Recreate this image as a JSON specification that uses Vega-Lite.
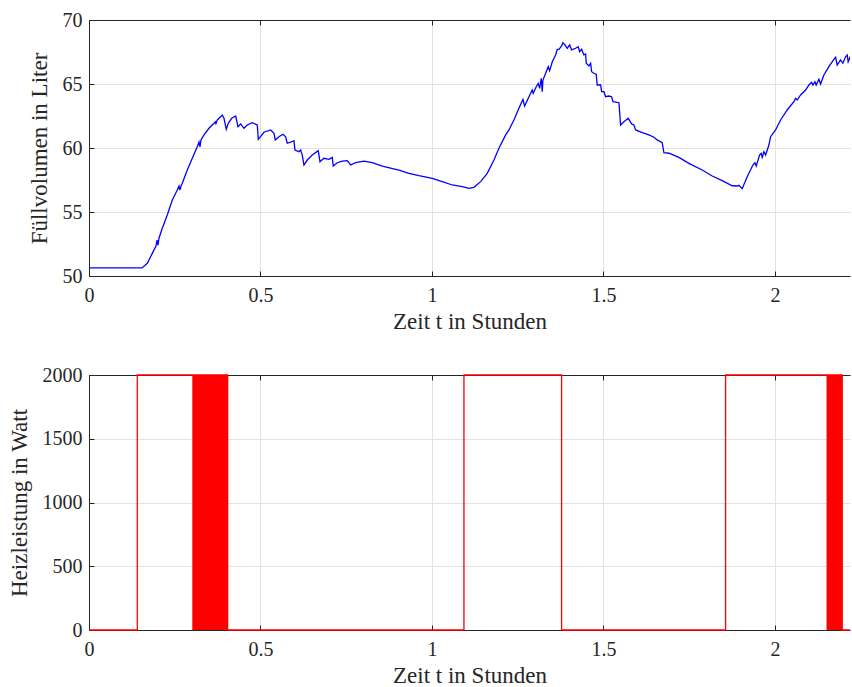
{
  "$schema": "https://vega.github.io/schema/vega-lite/v6.json",
  "background": "white",
  "padding": {"left": 8, "top": 10, "right": 0, "bottom": 0},
  "spacing": 32,
  "config": {
    "font": "Liberation Serif",
    "view": {"stroke": null},
    "axis": {
      "labelFont": "Liberation Serif", "titleFont": "Liberation Serif",
      "labelFontSize": 20, "titleFontSize": 23, "titleFontWeight": "normal",
      "labelColor": "#262626", "titleColor": "#262626",
      "domainColor": "#262626", "tickColor": "#262626", "domainWidth": 1, "tickWidth": 1,
      "gridColor": "#e2e2e2", "gridWidth": 1, "tickSize": -5, "titlePadding": 6, "labelFlush": false
    },
    "axisX": {"labelPadding": 14, "titlePadding": 5},
    "axisY": {"labelPadding": 12, "titlePadding": 11}
  },
  "datasets": {
    "vol": [
      {"t":0,"v":50.63},{"t":0.1545,"v":50.63},{"t":0.170,"v":50.99},{"t":0.1845,"v":51.77},{"t":0.1953,"v":52.34},{"t":0.1983,"v":52.81},{"t":0.2012,"v":52.40},{"t":0.2040,"v":52.95},{"t":0.2137,"v":53.73},{"t":0.2283,"v":54.77},{"t":0.2429,"v":55.94},{"t":0.2574,"v":56.72},{"t":0.2624,"v":57.03},{"t":0.2653,"v":56.72},{"t":0.2682,"v":57.03},{"t":0.2720,"v":57.24},{"t":0.2866,"v":58.28},{"t":0.3012,"v":59.20},{"t":0.3157,"v":60.10},{"t":0.3207,"v":60.47},{"t":0.3236,"v":60.08},{"t":0.3265,"v":60.63},{"t":0.3353,"v":61.02},{"t":0.3499,"v":61.54},{"t":0.3644,"v":61.93},{"t":0.3680,"v":62.05},{"t":0.3700,"v":61.90},{"t":0.3741,"v":62.19},{"t":0.3886,"v":62.58},{"t":0.3936,"v":62.32},{"t":0.4003,"v":61.46},{"t":0.4061,"v":61.93},{"t":0.4160,"v":62.32},{"t":0.4277,"v":62.50},{"t":0.4344,"v":61.66},{"t":0.4423,"v":61.88},{"t":0.4519,"v":61.54},{"t":0.4615,"v":61.80},{"t":0.4761,"v":61.98},{"t":0.4907,"v":61.80},{"t":0.4936,"v":60.68},{"t":0.5102,"v":61.23},{"t":0.5297,"v":61.41},{"t":0.5394,"v":61.15},{"t":0.5431,"v":60.63},{"t":0.5539,"v":60.88},{"t":0.5656,"v":61.07},{"t":0.5735,"v":60.88},{"t":0.5781,"v":60.37},{"t":0.5880,"v":60.45},{"t":0.5977,"v":60.57},{"t":0.6006,"v":59.84},{"t":0.6122,"v":59.71},{"t":0.6172,"v":59.84},{"t":0.6219,"v":59.45},{"t":0.6268,"v":58.67},{"t":0.6364,"v":59.06},{"t":0.6510,"v":59.45},{"t":0.6685,"v":59.79},{"t":0.6735,"v":58.93},{"t":0.6851,"v":59.20},{"t":0.6997,"v":59.12},{"t":0.7093,"v":59.27},{"t":0.7122,"v":58.59},{"t":0.7239,"v":58.85},{"t":0.7385,"v":58.98},{"t":0.7531,"v":59.01},{"t":0.7630,"v":58.67},{"t":0.7776,"v":58.85},{"t":0.8017,"v":58.98},{"t":0.8259,"v":58.85},{"t":0.8551,"v":58.59},{"t":0.9038,"v":58.28},{"t":0.9329,"v":58.02},{"t":0.9621,"v":57.84},{"t":1.0009,"v":57.63},{"t":1.0300,"v":57.37},{"t":1.0592,"v":57.11},{"t":1.0883,"v":56.98},{"t":1.1079,"v":56.85},{"t":1.1224,"v":56.93},{"t":1.1420,"v":57.37},{"t":1.1612,"v":58.02},{"t":1.1808,"v":59.06},{"t":1.1953,"v":59.98},{"t":1.2149,"v":61.02},{"t":1.2245,"v":61.41},{"t":1.2391,"v":62.19},{"t":1.2536,"v":63.10},{"t":1.2653,"v":63.80},{"t":1.2703,"v":63.28},{"t":1.2808,"v":63.88},{"t":1.2924,"v":64.53},{"t":1.2953,"v":64.27},{"t":1.3041,"v":64.79},{"t":1.3099,"v":65.05},{"t":1.3140,"v":64.66},{"t":1.3187,"v":65.45},{"t":1.3216,"v":64.40},{"t":1.3236,"v":65.31},{"t":1.3315,"v":65.84},{"t":1.3391,"v":66.35},{"t":1.3431,"v":66.04},{"t":1.3507,"v":66.72},{"t":1.3606,"v":67.27},{"t":1.3653,"v":67.71},{"t":1.3703,"v":67.71},{"t":1.3781,"v":67.97},{"t":1.3819,"v":68.23},{"t":1.3878,"v":68.05},{"t":1.3945,"v":67.79},{"t":1.4015,"v":68.05},{"t":1.4073,"v":67.66},{"t":1.4190,"v":67.79},{"t":1.4265,"v":67.91},{"t":1.4306,"v":67.52},{"t":1.4364,"v":67.71},{"t":1.4431,"v":67.27},{"t":1.4481,"v":67.34},{"t":1.4499,"v":66.62},{"t":1.4577,"v":66.41},{"t":1.4627,"v":66.62},{"t":1.4656,"v":65.96},{"t":1.4723,"v":65.84},{"t":1.4790,"v":65.76},{"t":1.4819,"v":64.92},{"t":1.4918,"v":64.92},{"t":1.4948,"v":64.40},{"t":1.5015,"v":64.40},{"t":1.5064,"v":64.01},{"t":1.5160,"v":64.06},{"t":1.5239,"v":64.01},{"t":1.5277,"v":63.62},{"t":1.5452,"v":63.54},{"t":1.5501,"v":61.80},{"t":1.5598,"v":62.05},{"t":1.5723,"v":62.32},{"t":1.5822,"v":61.88},{"t":1.5889,"v":61.80},{"t":1.5939,"v":61.41},{"t":1.6131,"v":61.20},{"t":1.6327,"v":61.02},{"t":1.6472,"v":60.84},{"t":1.6569,"v":60.63},{"t":1.6714,"v":60.41},{"t":1.6764,"v":59.63},{"t":1.6910,"v":59.59},{"t":1.7201,"v":59.27},{"t":1.7493,"v":58.80},{"t":1.7880,"v":58.28},{"t":1.8172,"v":57.81},{"t":1.8464,"v":57.45},{"t":1.8755,"v":57.05},{"t":1.8901,"v":57.03},{"t":1.8950,"v":57.09},{"t":1.9047,"v":56.82},{"t":1.9192,"v":57.76},{"t":1.9359,"v":58.67},{"t":1.9417,"v":58.85},{"t":1.9455,"v":58.59},{"t":1.9554,"v":59.45},{"t":1.9601,"v":59.59},{"t":1.9630,"v":59.27},{"t":1.9679,"v":59.71},{"t":1.9729,"v":59.45},{"t":1.9825,"v":60.23},{"t":1.9875,"v":60.88},{"t":2.0020,"v":61.41},{"t":2.0166,"v":62.19},{"t":2.0359,"v":62.97},{"t":2.0554,"v":63.62},{"t":2.0603,"v":63.88},{"t":2.0650,"v":63.75},{"t":2.0749,"v":64.14},{"t":2.0895,"v":64.53},{"t":2.0991,"v":64.92},{"t":2.1070,"v":65.13},{"t":2.1108,"v":64.92},{"t":2.1166,"v":65.18},{"t":2.1204,"v":64.92},{"t":2.1283,"v":65.37},{"t":2.1332,"v":65.00},{"t":2.1429,"v":65.70},{"t":2.1574,"v":66.35},{"t":2.1720,"v":66.93},{"t":2.1770,"v":67.09},{"t":2.1816,"v":66.48},{"t":2.1915,"v":66.88},{"t":2.1983,"v":66.62},{"t":2.2061,"v":67.13},{"t":2.2108,"v":67.27},{"t":2.2137,"v":66.74},{"t":2.2178,"v":67.01},{"t":2.219,"v":67.15}
    ],
    "heat": [
      {"t":0,"p":0},{"t":0.1408,"p":0},{"t":0.1408,"p":2000},{"t":0.3012,"p":2000},{"t":0.4043,"p":2000},{"t":0.4043,"p":0},{"t":1.0933,"p":0},{"t":1.0933,"p":2000},{"t":1.378,"p":2000},{"t":1.378,"p":0},{"t":1.8562,"p":0},{"t":1.8562,"p":2000},{"t":2.1506,"p":2000},{"t":2.1963,"p":2000},{"t":2.1963,"p":0},{"t":2.219,"p":0}
    ],
    "pulse": [
      {"t0":0.3012,"t1":0.4043,"lo":0,"hi":2000},
      {"t0":2.1506,"t1":2.1963,"lo":0,"hi":2000}
    ]
  },
  "vconcat": [
    {
      "width": 761, "height": 256,
      "data": {"name": "vol"},
      "resolve": {"axis": {"x": "independent"}},
      "layer": [
        {
          "mark": {"type": "line", "color": "#0000ff", "strokeWidth": 1.3, "clip": true},
          "encoding": {
            "x": {"field": "t", "type": "quantitative", "scale": {"domain": [0, 2.219], "nice": false, "zero": false},
                  "axis": {"orient": "bottom", "values": [0, 0.5, 1, 1.5, 2], "format": "~g", "title": "Zeit t in Stunden"}},
            "y": {"field": "v", "type": "quantitative", "scale": {"domain": [50, 70], "nice": false, "zero": false},
                  "axis": {"values": [50, 55, 60, 65, 70], "format": "d", "title": "Füllvolumen in Liter"}},
            "order": {"value": null}
          }
        },
        {
          "mark": {"type": "line", "opacity": 0},
          "encoding": {
            "x": {"field": "t", "type": "quantitative",
                  "axis": {"orient": "top", "values": [0, 0.5, 1, 1.5, 2], "labels": false, "grid": false, "title": null}},
            "y": {"field": "v", "type": "quantitative"}
          }
        }
      ]
    },
    {
      "width": 761, "height": 255,
      "resolve": {"axis": {"x": "independent"}},
      "layer": [
        {
          "data": {"name": "pulse"},
          "mark": {"type": "rect", "color": "#ff0000"},
          "encoding": {
            "x": {"field": "t0", "type": "quantitative", "scale": {"domain": [0, 2.219], "nice": false, "zero": false},
                  "axis": {"orient": "bottom", "values": [0, 0.5, 1, 1.5, 2], "format": "~g", "title": "Zeit t in Stunden"}},
            "x2": {"field": "t1"},
            "y": {"field": "lo", "type": "quantitative", "scale": {"domain": [0, 2000], "nice": false},
                  "axis": {"values": [0, 500, 1000, 1500, 2000], "format": "d", "title": "Heizleistung in Watt"}},
            "y2": {"field": "hi"}
          }
        },
        {
          "data": {"name": "heat"},
          "mark": {"type": "line", "color": "#ff0000", "strokeWidth": 1.3},
          "encoding": {
            "x": {"field": "t", "type": "quantitative", "axis": null},
            "y": {"field": "p", "type": "quantitative"},
            "order": {"value": null}
          }
        },
        {
          "data": {"name": "heat"},
          "mark": {"type": "line", "opacity": 0},
          "encoding": {
            "x": {"field": "t", "type": "quantitative",
                  "axis": {"orient": "top", "values": [0, 0.5, 1, 1.5, 2], "labels": false, "grid": false, "title": null}},
            "y": {"field": "p", "type": "quantitative"}
          }
        }
      ]
    }
  ]
}
